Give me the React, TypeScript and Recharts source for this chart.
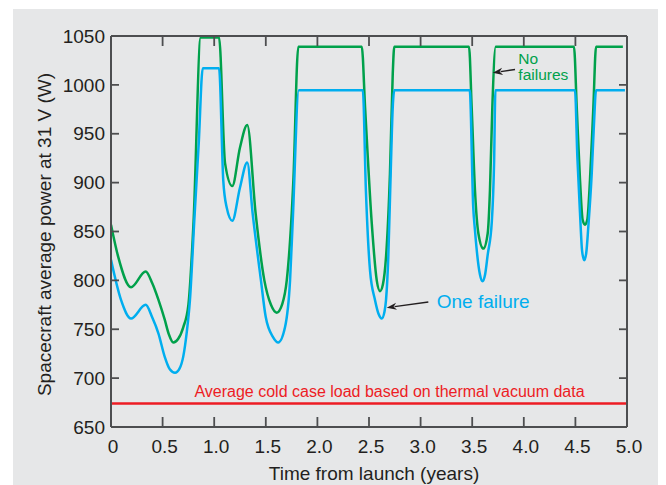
import React from 'react';
import { LineChart, Line, XAxis, YAxis, ReferenceLine, ReferenceDot, Label } from 'recharts';

// Time from launch (years) and power (W) for the "No failures" case
const noFailT = [0, 0.07, 0.194, 0.336, 0.4, 0.46, 0.52, 0.56, 0.604, 0.65, 0.7, 0.75, 0.8, 0.869, 1.047, 1.105, 1.175, 1.25, 1.32, 1.402, 1.486, 1.55, 1.606, 1.66, 1.703, 1.767, 1.815, 2.43, 2.462, 2.527, 2.575, 2.607, 2.635, 2.665, 2.703, 2.73, 2.745, 3.469, 3.495, 3.527, 3.56, 3.608, 3.65, 3.672, 3.695, 3.728, 4.486, 4.513, 4.545, 4.57, 4.593, 4.615, 4.641, 4.674, 4.7, 4.96];
const noFailW = [857, 824, 793, 809, 797, 780, 760, 745, 736.5, 740, 752, 775, 860, 1048.5, 1048.5, 920, 896.5, 936, 959, 868, 800, 775, 767, 776, 800, 902, 1039, 1039, 977, 858, 800, 789, 796, 824, 909, 1011, 1039, 1039, 977, 892, 848, 832.5, 848, 892, 977, 1039, 1039, 977, 902, 862, 857, 862, 902, 977, 1039, 1039];

// Time from launch (years) and power (W) for the "One failure" case
const oneFailT = [0, 0.097, 0.194, 0.336, 0.4, 0.46, 0.52, 0.57, 0.62, 0.665, 0.7, 0.733, 0.765, 0.807, 0.85, 0.889, 1.047, 1.088, 1.12, 1.175, 1.25, 1.32, 1.373, 1.453, 1.499, 1.57, 1.621, 1.686, 1.735, 1.761, 1.82, 2.44, 2.47, 2.51, 2.558, 2.595, 2.623, 2.65, 2.665, 2.687, 2.71, 2.73, 2.745, 3.476, 3.51, 3.527, 3.575, 3.6, 3.625, 3.65, 3.69, 3.712, 3.725, 4.496, 4.519, 4.545, 4.565, 4.586, 4.605, 4.625, 4.658, 4.68, 4.7, 4.98];
const oneFailW = [821, 780, 761, 775, 762, 745.6, 722, 709, 705.5, 710, 722, 746, 780, 861, 940, 1017, 1017, 902, 875, 861, 895, 920.7, 868, 800, 762.7, 742, 736.5, 752, 800, 861, 994.5, 994.5, 892, 810, 780, 765, 761, 768, 780, 824, 909, 977, 994.5, 994.5, 875, 851, 806, 799, 806, 826, 860, 920, 994.5, 994.5, 926, 868, 830, 820.6, 828, 854.6, 909, 960, 994.5, 994.5];

const coldCaseLoad = 674;
const xTicks = [0, 0.5, 1, 1.5, 2, 2.5, 3, 3.5, 4, 4.5, 5];
const yTicks = [650, 700, 750, 800, 850, 900, 950, 1000, 1050];

const noFailData = noFailT.map((t, i) => ({ t, w: noFailW[i] }));
const oneFailData = oneFailT.map((t, i) => ({ t, w: oneFailW[i] }));

const FONT = '"Liberation Sans", Arial, Helvetica, sans-serif';
const AXIS = '#4d4e50';
const TEXT = '#231f20';
const GREEN = '#00a14b';
const BLUE = '#00aeef';
const RED = '#ed1c24';

const fmtX = (v: number) => (v === 0 ? '0' : v.toFixed(1));

// Custom ticks: inward tick marks plus labels
const BottomTick = (p: any) => {
  const { x, y, payload } = p;
  return (
    <g>
      <line x1={x} y1={y} x2={x} y2={y - 10} stroke={AXIS} strokeWidth={1.8} />
      <text x={x + 2} y={y + 13} dy="0.71em" textAnchor="middle" fontSize={19} fill={TEXT} fontFamily={FONT}>
        {fmtX(payload.value)}
      </text>
    </g>
  );
};
const TopTick = (p: any) => {
  const { x, y } = p;
  return <line x1={x} y1={y} x2={x} y2={y + 10} stroke={AXIS} strokeWidth={1.8} />;
};
const LeftTick = (p: any) => {
  const { x, y, payload } = p;
  return (
    <g>
      <line x1={x} y1={y} x2={x + 8} y2={y} stroke={AXIS} strokeWidth={1.8} />
      <text x={x - 6} y={y} dy="0.355em" textAnchor="end" fontSize={19} fill={TEXT} fontFamily={FONT}>
        {payload.value}
      </text>
    </g>
  );
};
const RightTick = (p: any) => {
  const { x, y } = p;
  return <line x1={x} y1={y} x2={x - 8} y2={y} stroke={AXIS} strokeWidth={1.8} />;
};

const Arrow = (p: any) => {
  const { x1, y1, x2, y2 } = p;
  const ang = Math.atan2(y2 - y1, x2 - x1);
  const L = 10, W = 3.6;
  const bx = x2 - L * Math.cos(ang);
  const by = y2 - L * Math.sin(ang);
  const px = -Math.sin(ang) * W;
  const py = Math.cos(ang) * W;
  return (
    <g>
      <line x1={x1} y1={y1} x2={bx + 2 * Math.cos(ang)} y2={by + 2 * Math.sin(ang)} stroke={TEXT} strokeWidth={1.4} />
      <polygon points={`${x2},${y2} ${bx + px},${by + py} ${bx + 3 * Math.cos(ang)},${by + 3 * Math.sin(ang)} ${bx - px},${by - py}`} fill={TEXT} />
    </g>
  );
};

const YTitle = (p: any) => {
  const vb = p.viewBox || { x: 0, y: 27, width: 98, height: 391 };
  const x = vb.x + 38;
  const y = vb.y + vb.height / 2 + 3;
  return (
    <text x={x} y={y} transform={`rotate(-90, ${x}, ${y})`} textAnchor="middle" fontSize={19} fill={TEXT} fontFamily={FONT}>
      Spacecraft average power at 31 V (W)
    </text>
  );
};

const XTitle = (p: any) => {
  const vb = p.viewBox || { x: 98, y: 418, width: 516, height: 58 };
  return (
    <text x={vb.x + vb.width / 2 + 5} y={vb.y + 52.5} textAnchor="middle" fontSize={19} fill={TEXT} fontFamily={FONT}>
      Time from launch (years)
    </text>
  );
};

export default function App() {
  return (
    <div style={{ paddingLeft: 5, paddingTop: 1 }}>
      <div style={{ width: 653, height: 476, background: '#e6e7e8' }}>
        <LineChart width={653} height={476} margin={{ top: 26, right: 38, bottom: 0, left: 0 }} style={{ fontFamily: FONT }}>
          <XAxis
            xAxisId={0}
            dataKey="t"
            type="number"
            domain={[0, 5]}
            ticks={xTicks}
            allowDataOverflow
            height={58}
            tickSize={0}
            tickMargin={0}
            axisLine={{ stroke: AXIS, strokeWidth: 2 }}
            tickLine={false}
            tick={BottomTick}
            interval={0}
          >
            <Label content={XTitle} />
          </XAxis>
          <XAxis
            xAxisId="top"
            orientation="top"
            dataKey="t"
            type="number"
            domain={[0, 5]}
            ticks={xTicks}
            allowDataOverflow
            height={1}
            tickSize={0}
            tickMargin={0}
            axisLine={{ stroke: AXIS, strokeWidth: 2 }}
            tickLine={false}
            tick={TopTick}
            interval={0}
          />
          <YAxis
            yAxisId={0}
            type="number"
            domain={[650, 1050]}
            ticks={yTicks}
            allowDataOverflow
            width={98}
            tickSize={0}
            tickMargin={0}
            axisLine={{ stroke: AXIS, strokeWidth: 2 }}
            tickLine={false}
            tick={LeftTick}
            interval={0}
          >
            <Label content={YTitle} />
          </YAxis>
          <YAxis
            yAxisId="right"
            orientation="right"
            type="number"
            domain={[650, 1050]}
            ticks={yTicks}
            allowDataOverflow
            width={1}
            tickSize={0}
            tickMargin={0}
            axisLine={{ stroke: AXIS, strokeWidth: 2 }}
            tickLine={false}
            tick={RightTick}
            interval={0}
          />
          <ReferenceLine y={coldCaseLoad} stroke={RED} strokeWidth={2.5} />
          <Line data={noFailData} dataKey="w" type="monotone" stroke={GREEN} strokeWidth={2.5} dot={false} isAnimationActive={false} />
          <Line data={oneFailData} dataKey="w" type="monotone" stroke={BLUE} strokeWidth={2.5} dot={false} isAnimationActive={false} />
          <ReferenceDot
            x={2.699}
            y={681}
            r={0}
            shape={(p: any) => (
              <text x={p.cx} y={p.cy} textAnchor="middle" fontSize={16} fill={RED} fontFamily={FONT}>
                Average cold case load based on thermal vacuum data
              </text>
            )}
          />
          <ReferenceDot
            x={3.156}
            y={771.6}
            r={0}
            shape={(p: any) => (
              <text x={p.cx} y={p.cy} textAnchor="start" fontSize={19} fill={BLUE} fontFamily={FONT}>
                One failure
              </text>
            )}
          />
          <ReferenceDot
            x={3.947}
            y={1021.5}
            r={0}
            shape={(p: any) => (
              <text x={p.cx} y={p.cy} textAnchor="start" fontSize={15.5} fill={GREEN} fontFamily={FONT}>
                <tspan x={p.cx}>No</tspan>
                <tspan x={p.cx} dy={16}>failures</tspan>
              </text>
            )}
          />
          <ReferenceLine segment={[{ x: 3.075, y: 777.9 }, { x: 2.671, y: 772.1 }]} shape={Arrow} />
          <ReferenceLine segment={[{ x: 3.915, y: 1015.7 }, { x: 3.699, y: 1012.3 }]} shape={Arrow} />
        </LineChart>
      </div>
    </div>
  );
}
